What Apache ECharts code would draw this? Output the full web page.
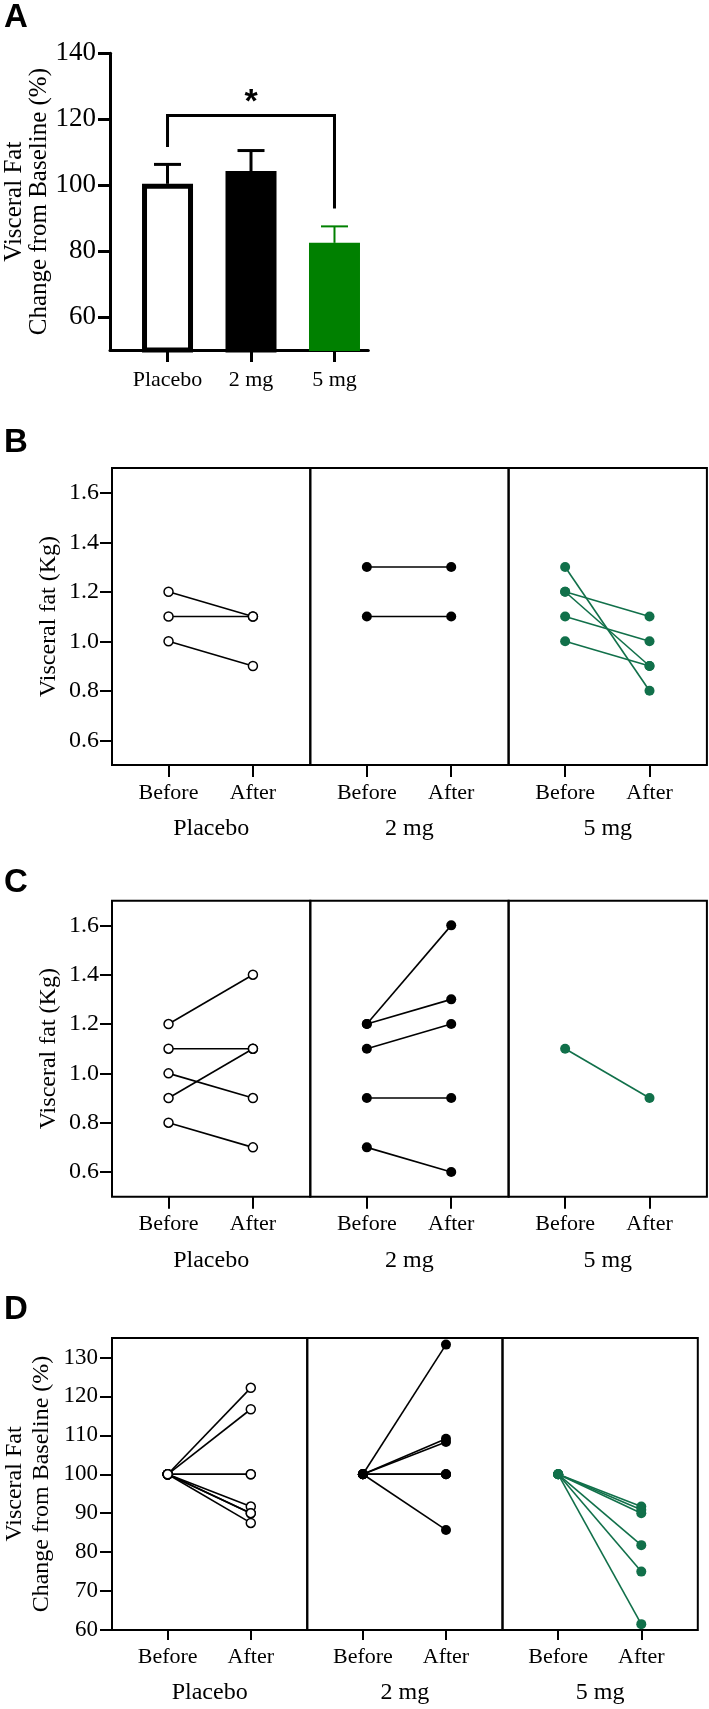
<!DOCTYPE html>
<html><head><meta charset="utf-8">
<script src="https://cdn.jsdelivr.net/npm/echarts@6/dist/echarts.min.js"></script>
<style>html,body{margin:0;padding:0;background:#fff}#c{width:709px;height:1709px}</style>
</head><body><div id="c"></div>
<script>
// ---------- Panel A data ----------
const groups = ['Placebo', '2 mg', '5 mg'];
const barMeans = [100.4, 104.3, 82.5];
const barUpper = [106.3, 110.5, 87.5];
const aTicks = [60, 80, 100, 120, 140];
const sigBracket = [0, 2, 121.1, 111.6, 92.9]; // from group, to group, bar height, left leg end, right leg end
const sigStar = [1, 126.8];

// ---------- Shared ----------
const timeLabels = ['Before', 'After'];
const kgTicks = [0.6, 0.8, 1.0, 1.2, 1.4, 1.6];
const pctTicks = [60, 70, 80, 90, 100, 110, 120, 130];

// ---------- Panel B data (kg) ----------
const bPlaceboBefore = [1.2, 1.1, 1.0];
const bPlaceboAfter  = [1.1, 1.1, 0.9];
const b2mgBefore = [1.3, 1.1];
const b2mgAfter  = [1.3, 1.1];
const b5mgBefore = [1.3, 1.2, 1.2, 1.1, 1.0];
const b5mgAfter  = [0.8, 0.9, 1.1, 1.0, 0.9];

// ---------- Panel C data (kg) ----------
const cPlaceboBefore = [1.2, 1.1, 1.0, 0.9, 0.8];
const cPlaceboAfter  = [1.4, 1.1, 0.9, 1.1, 0.7];
const c2mgBefore = [1.2, 1.2, 1.1, 0.9, 0.7];
const c2mgAfter  = [1.6, 1.3, 1.2, 0.9, 0.6];
const c5mgBefore = [1.1];
const c5mgAfter  = [0.9];

// ---------- Panel D data (% of baseline) ----------
const dPlaceboBefore = [100, 100, 100, 100, 100, 100, 100, 100];
const dPlaceboAfter  = [122.2, 116.7, 100, 100, 91.7, 90.0, 90.0, 87.5];
const d2mgBefore = [100, 100, 100, 100, 100, 100, 100];
const d2mgAfter  = [133.3, 109.1, 108.3, 100, 100, 100, 85.7];
const d5mgBefore = [100, 100, 100, 100, 100, 100];
const d5mgAfter  = [91.7, 90.9, 90.0, 81.8, 75.0, 61.5];

// ---------- Styling ----------
const FF = '"Liberation Serif", "Times New Roman", serif';
const GREEN_BAR = '#008000';
const GREEN = '#11704a';
const grid = [], xAxis = [], yAxis = [], series = [];

// ---------- Panel A ----------
grid.push({left: 110, top: 53.3, width: 258.3, height: 296.7, show: false});
xAxis.push({
  gridIndex: 0, type: 'value', min: -0.689, max: 2.405,
  splitLine: {show: false},
  axisLine: {show: true, onZero: false, lineStyle: {color: '#000', width: 3}},
  axisTick: {show: true, customValues: [0, 1, 2], length: 12, lineStyle: {color: '#000', width: 3}},
  axisLabel: {customValues: [0, 1, 2], formatter: v => groups[Math.round(v)], margin: 19,
              fontFamily: FF, fontSize: 22, color: '#000'}
});
yAxis.push({
  gridIndex: 0, type: 'value', min: 50, max: 140,
  splitLine: {show: false},
  axisLine: {show: true, onZero: false, lineStyle: {color: '#000', width: 3}},
  axisTick: {show: true, customValues: aTicks, length: 12, lineStyle: {color: '#000', width: 3}},
  axisLabel: {customValues: aTicks, margin: 14, fontFamily: FF, fontSize: 27, color: '#000'},
  name: 'Visceral Fat\nChange from Baseline (%)', nameLocation: 'middle', nameRotate: 90, nameGap: 58,
  nameTextStyle: {fontFamily: FF, fontSize: 25, lineHeight: 25, color: '#000'}
});
const barStyles = [
  {color: '#fff', borderColor: '#000', borderWidth: 5},
  {color: '#000', borderColor: '#000', borderWidth: 5},
  {color: GREEN_BAR, borderColor: GREEN_BAR, borderWidth: 2}
];
series.push({
  type: 'bar', xAxisIndex: 0, yAxisIndex: 0, barWidth: 51, clip: true, silent: true, animation: false,
  data: barMeans.map((m, i) => ({value: [i, m], itemStyle: barStyles[i]}))
});
const errCol = ['#000', '#000', GREEN_BAR], errW = [3, 3, 2];
series.push({
  type: 'custom', xAxisIndex: 0, yAxisIndex: 0, silent: true, animation: false, z: 5,
  encode: {x: 0, y: [1, 2]},
  data: barMeans.map((m, i) => [i, m, barUpper[i]]),
  renderItem: (params, api) => {
    const x = api.value(0);
    const lo = api.coord([x, api.value(1)]), hi = api.coord([x, api.value(2)]);
    const c = errCol[params.dataIndex], w = errW[params.dataIndex];
    return {type: 'group', children: [
      {type: 'line', shape: {x1: lo[0], y1: lo[1], x2: hi[0], y2: hi[1]}, style: {stroke: c, lineWidth: w}},
      {type: 'line', shape: {x1: hi[0] - 13.5, y1: hi[1], x2: hi[0] + 13.5, y2: hi[1]}, style: {stroke: c, lineWidth: w}}
    ]};
  }
});
series.push({
  type: 'custom', xAxisIndex: 0, yAxisIndex: 0, silent: true, animation: false, z: 5,
  encode: {x: [0, 1], y: [2, 3, 4]},
  data: [sigBracket],
  renderItem: (params, api) => {
    const a = api.coord([api.value(0), api.value(3)]);
    const b = api.coord([api.value(0), api.value(2)]);
    const c = api.coord([api.value(1), api.value(2)]);
    const d = api.coord([api.value(1), api.value(4)]);
    const s = api.coord(sigStar);
    return {type: 'group', children: [
      {type: 'polyline', shape: {points: [a, b, c, d]}, style: {stroke: '#000', lineWidth: 3, fill: null}},
      {type: 'text', x: s[0], y: s[1] + 6, style: {text: '*', fontFamily: '"Liberation Sans", Arial, sans-serif',
        fontWeight: 'bold', fontSize: 34, fill: '#000', align: 'center', verticalAlign: 'middle'}}
    ]};
  }
});

// ---------- Panels B, C, D ----------
const kinds = {
  open:  {symbolSize: 9,  itemStyle: {color: '#fff', borderColor: '#000', borderWidth: 1.5}, line: '#000'},
  black: {symbolSize: 10, itemStyle: {color: '#000', borderWidth: 0}, line: '#000'},
  green: {symbolSize: 10, itemStyle: {color: GREEN, borderWidth: 0}, line: GREEN}
};
function addRow(cfg) {
  cfg.sets.forEach((set, k) => {
    const gi = grid.length;
    grid.push({left: cfg.lefts[k], top: cfg.top, width: cfg.width, height: cfg.height,
               show: true, borderColor: '#000', borderWidth: 2, backgroundColor: 'transparent'});
    xAxis.push({
      gridIndex: gi, type: 'value', min: -0.67, max: 1.68, position: 'bottom',
      splitLine: {show: false}, axisLine: {show: false, onZero: false},
      axisTick: {show: true, customValues: [0, 1], length: cfg.xTickLen, lineStyle: {color: '#000', width: 2}},
      axisLabel: {customValues: [0, 1], formatter: v => timeLabels[Math.round(v)], margin: cfg.labelMargin,
                  fontFamily: FF, fontSize: 22, color: '#000'},
      name: groups[k], nameLocation: 'middle', nameGap: cfg.groupGap,
      nameTextStyle: {fontFamily: FF, fontSize: 24, color: '#000'}
    });
    const y = {
      gridIndex: gi, type: 'value', min: cfg.yMin, max: cfg.yMax, position: 'left',
      splitLine: {show: false}, axisLine: {show: false, onZero: false}
    };
    if (k === 0) {
      Object.assign(y, {
        axisTick: {show: true, customValues: cfg.yTicks, length: 12, lineStyle: {color: '#000', width: 2}},
        axisLabel: {customValues: cfg.yTicks, formatter: cfg.yFmt, margin: cfg.yMargin,
                    fontFamily: FF, fontSize: cfg.yLabelSize, color: '#000'},
        name: cfg.yName, nameLocation: 'middle', nameRotate: 90, nameGap: cfg.yNameGap,
        nameTextStyle: {fontFamily: FF, fontSize: 24, lineHeight: cfg.yNameLH, color: '#000'}
      });
    } else {
      Object.assign(y, {axisTick: {show: false}, axisLabel: {show: false}});
    }
    yAxis.push(y);
    const st = kinds[set.kind];
    set.before.forEach((b, j) => {
      series.push({
        type: 'line', xAxisIndex: gi, yAxisIndex: gi, silent: true, animation: false,
        data: [[0, b], [1, set.after[j]]],
        symbol: 'circle', symbolSize: st.symbolSize, itemStyle: st.itemStyle,
        lineStyle: {color: st.line, width: 1.6}, emphasis: {disabled: true}
      });
    });
  });
}
const kgFmt = v => v.toFixed(1);
addRow({top: 468, height: 297, lefts: [112, 310.3, 508.6], width: 198.3,
  yMin: 0.5, yMax: 1.7, yTicks: kgTicks, yFmt: kgFmt, yLabelSize: 24, yMargin: 13,
  yName: 'Visceral fat (Kg)', yNameGap: 51, yNameLH: 24, xTickLen: 12, labelMargin: 17, groupGap: 52,
  sets: [
    {before: bPlaceboBefore, after: bPlaceboAfter, kind: 'open'},
    {before: b2mgBefore, after: b2mgAfter, kind: 'black'},
    {before: b5mgBefore, after: b5mgAfter, kind: 'green'}
  ]});
addRow({top: 900.7, height: 296, lefts: [112, 310.3, 508.6], width: 198.3,
  yMin: 0.5, yMax: 1.7, yTicks: kgTicks, yFmt: kgFmt, yLabelSize: 24, yMargin: 13,
  yName: 'Visceral fat (Kg)', yNameGap: 51, yNameLH: 24, xTickLen: 12, labelMargin: 17, groupGap: 52,
  sets: [
    {before: cPlaceboBefore, after: cPlaceboAfter, kind: 'open'},
    {before: c2mgBefore, after: c2mgAfter, kind: 'black'},
    {before: c5mgBefore, after: c5mgAfter, kind: 'green'}
  ]});
addRow({top: 1338, height: 292, lefts: [112, 307.2, 502.5], width: 195.3,
  yMin: 60, yMax: 135, yTicks: pctTicks, yFmt: v => String(v), yLabelSize: 23, yMargin: 14,
  yName: 'Visceral Fat\nChange from Baseline (%)', yNameGap: 57, yNameLH: 27, xTickLen: 10, labelMargin: 16, groupGap: 51,
  sets: [
    {before: dPlaceboBefore, after: dPlaceboAfter, kind: 'open'},
    {before: d2mgBefore, after: d2mgAfter, kind: 'black'},
    {before: d5mgBefore, after: d5mgAfter, kind: 'green'}
  ]});

// ---------- Panel letters ----------
const letterStyle = t => ({text: t, fontFamily: '"Liberation Sans", Arial, sans-serif', fontWeight: 'bold', fontSize: 33, fill: '#000'});
const graphic = [
  {type: 'text', left: 4, top: 1, style: letterStyle('A')},
  {type: 'text', left: 4, top: 426, style: letterStyle('B')},
  {type: 'text', left: 4, top: 866, style: letterStyle('C')},
  {type: 'text', left: 4, top: 1293, style: letterStyle('D')}
];

const chart = echarts.init(document.getElementById('c'), null, {renderer: 'canvas'});
chart.setOption({animation: false, backgroundColor: '#fff', grid, xAxis, yAxis, series, graphic});
</script>
</body></html>
